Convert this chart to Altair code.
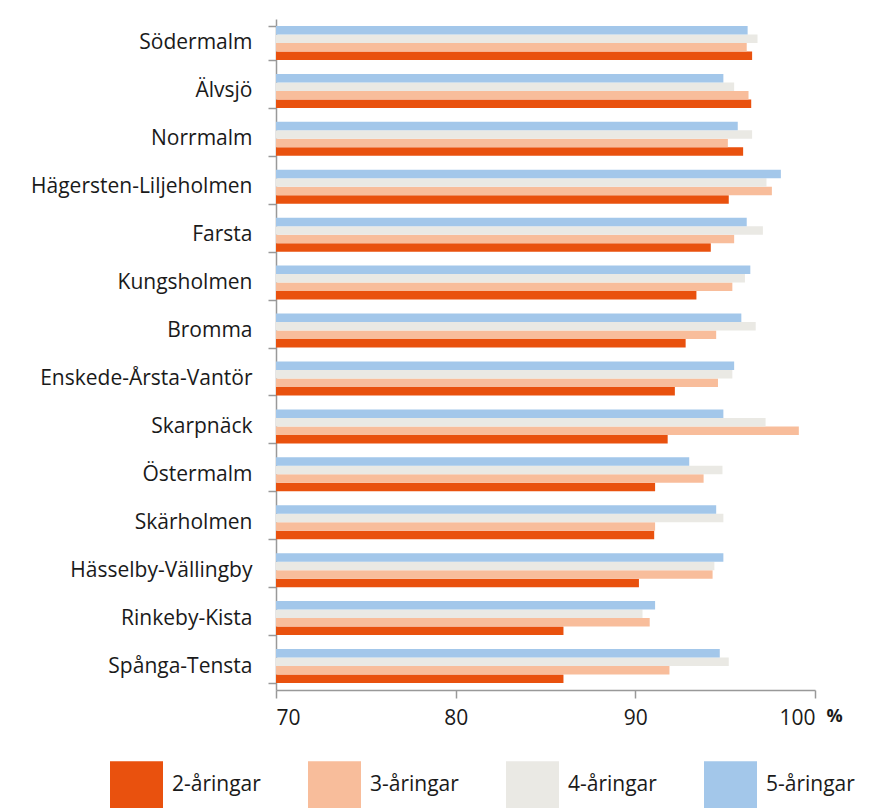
import altair as alt
import pandas as pd

districts = ["Södermalm", "Älvsjö", "Norrmalm", "Hägersten-Liljeholmen", "Farsta",
             "Kungsholmen", "Bromma", "Enskede-Årsta-Vantör", "Skarpnäck", "Östermalm",
             "Skärholmen", "Hässelby-Vällingby", "Rinkeby-Kista", "Spånga-Tensta"]
series = ["2-åringar", "3-åringar", "4-åringar", "5-åringar"]

v2 = [96.5, 96.45, 96.0, 95.2, 94.2, 93.4, 92.8, 92.2, 91.8, 91.1, 91.05, 90.2, 86.0, 86.0]
v3 = [96.2, 96.3, 95.15, 97.6, 95.5, 95.4, 94.5, 94.6, 99.1, 93.8, 91.1, 94.3, 90.8, 91.9]
v4 = [96.8, 95.5, 96.5, 97.3, 97.1, 96.1, 96.7, 95.4, 97.25, 94.85, 94.9, 94.4, 90.4, 95.2]
v5 = [96.25, 94.9, 95.7, 98.1, 96.2, 96.4, 95.9, 95.5, 94.9, 93.0, 94.5, 94.9, 91.1, 94.7]

colors = ["#E9510E", "#F8BD9B", "#EAE9E4", "#A3C7EA"]

rows = []
for s, vals in zip(series, [v2, v3, v4, v5]):
    for d, v in zip(districts, vals):
        rows.append({"omrade": d, "serie": s, "varde": v})
df = pd.DataFrame(rows)

FONT = "Open Sans"

chart = alt.Chart(df).mark_bar(clip=True).encode(
    y=alt.Y("omrade:N", sort=districts,
            scale=alt.Scale(paddingInner=0.29, paddingOuter=0.145),
            axis=alt.Axis(title=None, tickBand="extent", tickSize=8, labelPadding=16,
                          labelLimit=400,
                          domainColor="#999999", tickColor="#999999", domainWidth=1.5,
                          tickWidth=1.5, labelFontSize=21, labelColor="#1a1a1a",
                          labelFont=FONT)),
    yOffset=alt.YOffset("serie:N", sort=list(reversed(series)),
                        scale=alt.Scale(paddingInner=0, paddingOuter=0)),
    x=alt.X("varde:Q", scale=alt.Scale(domain=[70, 100], zero=False, nice=False),
            axis=alt.Axis(title="%", values=[70, 80, 90, 100], grid=False, tickSize=8,
                          labelPadding=9, labelFontSize=21, labelColor="#1a1a1a",
                          labelFont=FONT, domainColor="#999999", tickColor="#999999",
                          domainWidth=1.5, tickWidth=1.5,
                          titleX=550, titleY=31, titleAlign="left",
                          titleBaseline="alphabetic", titleFontSize=18,
                          titleFontWeight="bold", titleFont=FONT, titleColor="#1a1a1a")),
    color=alt.Color("serie:N", sort=series,
                    scale=alt.Scale(domain=series, range=colors),
                    legend=alt.Legend(title=None, orient="none", legendX=-166, legendY=739,
                                      direction="horizontal", columns=4,
                                      symbolType="M-1,-0.88H1V0.88H-1Z",
                                      symbolSize=2809, symbolStrokeWidth=0, labelFontSize=21,
                                      labelFont=FONT, labelColor="#1a1a1a", labelOffset=9,
                                      columnPadding=47, gridAlign="all", padding=0)),
).properties(width=539, height=671, padding={"left": 22, "top": 0, "right": 5, "bottom": 0}
).configure_view(stroke=None)

chart.save("out.html", embed_options={"renderer": "svg", "actions": False})
